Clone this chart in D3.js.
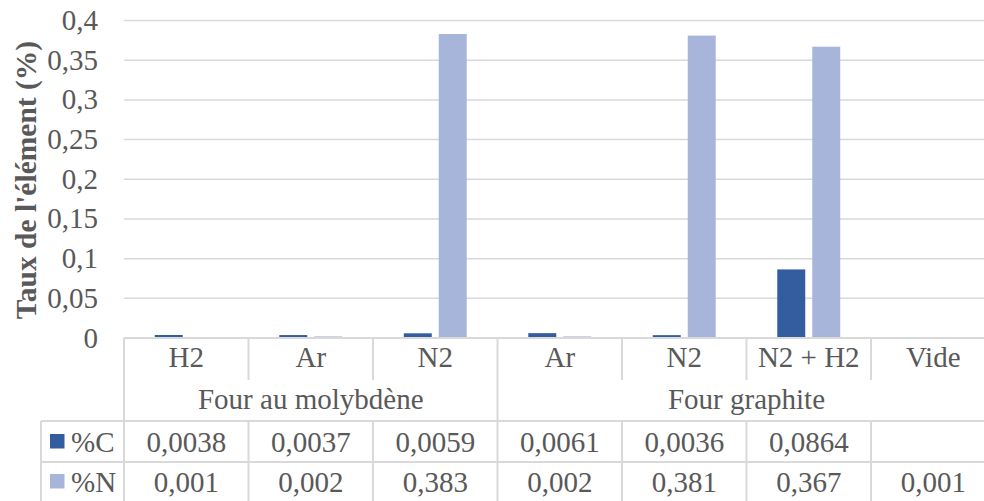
<!DOCTYPE html>
<html>
<head>
<meta charset="utf-8">
<script src="https://cdn.jsdelivr.net/npm/d3@7"></script>
<style>
  html, body { margin: 0; padding: 0; background: #fff; }
  svg { display: block; }
</style>
</head>
<body>
<svg id="chart" width="984" height="501"></svg>
<script>
// ---- Data ----
const categories = ["H2", "Ar", "N2", "Ar", "N2", "N2 + H2", "Vide"];
const groupLabels = ["Four au molybdène", "Four graphite"];
const groupSpans = [3, 4];
const seriesNames = ["%C", "%N"];
const valuesC = [0.0038, 0.0037, 0.0059, 0.0061, 0.0036, 0.0864, null];
const valuesN = [0.001, 0.002, 0.383, 0.002, 0.381, 0.367, 0.001];
const seriesColors = ["#345D9F", "#A8B5DA"];
const yTicks = [0, 0.05, 0.1, 0.15, 0.2, 0.25, 0.3, 0.35, 0.4];
const yTitle = "Taux de l'élément (%)";

const seriesValues = [valuesC, valuesN];
const fmt = v => (v === null || v === undefined) ? "" : String(v).replace(".", ",");

// ---- Layout ----
const FONT = "'Liberation Serif', 'Times New Roman', Times, 'DejaVu Serif', serif";
const svg = d3.select("#chart")
  .attr("font-family", FONT)
  .style("font-family", FONT)
  .attr("fill", "#595959");
const plotLeft = 124, plotRight = 995.5, plotTop = 20.5, plotBottom = 338;
const rowCat = [338, 380], rowGroup = [380, 421], rowC = [421, 462], rowN = [462, 503];
const legendLeft = 41;
const grid = "#D9D9D9";
const fs = 29;
const txt = "#595959";

const x = d3.scaleBand().domain(d3.range(categories.length)).range([plotLeft, plotRight]).padding(0);
const xs = d3.scaleBand().domain(seriesNames).range([0, x.bandwidth()]).paddingInner(0.2).paddingOuter(0.88);
const y = d3.scaleLinear().domain([0, 0.4]).range([plotBottom, plotTop]);

// gridlines
svg.append("g").selectAll("line").data(yTicks).join("line")
  .attr("x1", plotLeft).attr("x2", 984)
  .attr("y1", d => y(d)).attr("y2", d => y(d))
  .attr("stroke", grid).attr("stroke-width", 1.5);

// y tick labels
svg.append("g").selectAll("text").data(yTicks).join("text")
  .attr("x", 98).attr("y", d => y(d) + 9.5)
  .attr("text-anchor", "end").attr("font-size", fs).attr("fill", txt)
  .style("font-family", FONT)
  .text(d => fmt(d));

// y title
svg.append("text")
  .attr("transform", "translate(36,180) rotate(-90)")
  .attr("text-anchor", "middle").attr("font-size", 29.5).attr("font-weight", "bold")
  .attr("fill", txt).style("font-family", FONT)
  .text(yTitle);

// bars
seriesNames.forEach((s, si) => {
  svg.append("g").selectAll("rect")
    .data(seriesValues[si].map((v, i) => ({ v, i })).filter(d => d.v !== null))
    .join("rect")
    .attr("x", d => x(d.i) + xs(s))
    .attr("width", xs.bandwidth())
    .attr("y", d => y(d.v))
    .attr("height", d => plotBottom - y(d.v))
    .attr("fill", seriesColors[si]);
});

// ---- Data table lines ----
const tl = svg.append("g").attr("stroke", grid).attr("stroke-width", 2);
const hline = (yy, x1, x2) => tl.append("line").attr("x1", x1).attr("x2", x2).attr("y1", yy).attr("y2", yy);
const vline = (xx, y1, y2) => tl.append("line").attr("x1", xx).attr("x2", xx).attr("y1", y1).attr("y2", y2);

hline(plotBottom, plotLeft, 984);
hline(rowC[0], legendLeft, 984);
hline(rowN[0], legendLeft, 984);
vline(legendLeft, rowC[0], 501);
vline(plotLeft, plotBottom, 501);

const groupStarts = groupSpans.map((s, i) => d3.sum(groupSpans.slice(0, i)));
d3.range(1, categories.length).forEach(i => {
  const xx = x(i);
  if (groupStarts.includes(i)) {
    vline(xx, plotBottom, 501);
  } else {
    vline(xx, rowCat[0], rowCat[1]);
    vline(xx, rowC[0], 501);
  }
});

// category labels
svg.append("g").selectAll("text").data(categories).join("text")
  .attr("x", (d, i) => x(i) + x.bandwidth() / 2)
  .attr("y", 366.5)
  .attr("text-anchor", "middle").attr("font-size", fs).attr("fill", txt)
  .style("font-family", FONT)
  .text(d => d);

// group labels
svg.append("g").selectAll("text").data(groupLabels).join("text")
  .attr("x", (d, i) => {
    const a = x(groupStarts[i]);
    const b = x(groupStarts[i] + groupSpans[i] - 1) + x.bandwidth();
    return (a + b) / 2;
  })
  .attr("y", 409)
  .attr("text-anchor", "middle").attr("font-size", fs).attr("fill", txt)
  .style("font-family", FONT)
  .text(d => d);

// value rows
const rowBaselines = [451.5, 491.5];
seriesNames.forEach((s, si) => {
  const g = svg.append("g");
  g.selectAll("text").data(seriesValues[si]).join("text")
    .attr("x", (d, i) => x(i) + x.bandwidth() / 2)
    .attr("y", rowBaselines[si])
    .attr("text-anchor", "middle").attr("font-size", fs).attr("fill", txt)
    .style("font-family", FONT)
    .text(d => fmt(d));
  g.append("rect")
    .attr("x", 50).attr("y", rowBaselines[si] - 17.5)
    .attr("width", 14.5).attr("height", 14.5)
    .attr("fill", seriesColors[si]);
  g.append("text")
    .attr("x", 71).attr("y", rowBaselines[si])
    .attr("font-size", fs).attr("fill", txt)
    .style("font-family", FONT)
    .text(s);
});
</script>
</body>
</html>
